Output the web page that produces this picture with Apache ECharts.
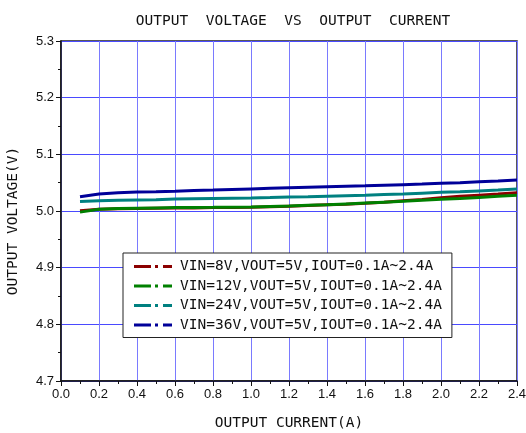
<!DOCTYPE html>
<html>
<head>
<meta charset="utf-8">
<script src="https://cdn.jsdelivr.net/npm/echarts@6/dist/echarts.min.js"></script>
<style>html,body{margin:0;padding:0;background:#fff}#c{width:526px;height:433px}</style>
</head>
<body>
<div id="c"></div>
<script>
const currents = [0.1,0.2,0.3,0.4,0.5,0.6,0.7,0.8,0.9,1.0,1.1,1.2,1.3,1.4,1.5,1.6,1.7,1.8,1.9,2.0,2.1,2.2,2.3,2.4];
const vin8  = [5.0005,5.003,5.004,5.0045,5.005,5.0052,5.0055,5.006,5.006,5.0065,5.0075,5.0085,5.0095,5.011,5.012,5.0136,5.0155,5.018,5.0205,5.0235,5.026,5.028,5.030,5.0324];
const vin12 = [4.998,5.003,5.0045,5.005,5.0055,5.006,5.0063,5.0065,5.0068,5.007,5.008,5.0088,5.010,5.011,5.0125,5.014,5.0155,5.017,5.019,5.0207,5.022,5.024,5.026,5.0277];
const vin24 = [5.0166,5.018,5.019,5.0195,5.020,5.021,5.0215,5.022,5.0225,5.023,5.0237,5.0245,5.025,5.026,5.027,5.0277,5.029,5.030,5.0315,5.033,5.034,5.0355,5.037,5.039];
const vin36 = [5.025,5.030,5.032,5.0335,5.034,5.035,5.0362,5.037,5.038,5.039,5.040,5.041,5.042,5.043,5.0438,5.0445,5.0455,5.0465,5.0475,5.049,5.050,5.0515,5.053,5.0547];
const seriesNames = ['VIN=8V,VOUT=5V,IOUT=0.1A~2.4A','VIN=12V,VOUT=5V,IOUT=0.1A~2.4A','VIN=24V,VOUT=5V,IOUT=0.1A~2.4A','VIN=36V,VOUT=5V,IOUT=0.1A~2.4A'];
const seriesData = [vin8, vin12, vin24, vin36];
const colors = ['#8b0000','#008000','#008080','#000099'];

const monoFont = 'DejaVu Sans Mono';
const dashDot = 'path://M0,0h17v3h-17z M21,0h3v3h-3z M29,0h9v3h-9z';

const chart = echarts.init(document.getElementById('c'), null, {renderer:'canvas'});
chart.setOption({
  animation: false,
  backgroundColor: '#fff',
  title: {
    text: 'OUTPUT  VOLTAGE  VS  OUTPUT  CURRENT',
    left: 288, top: 9, textAlign: 'center',
    textStyle: {fontFamily: monoFont, fontSize: 14.5, fontWeight: 'normal', color: '#111'}
  },
  grid: {left: 61, right: 9, top: 41, bottom: 52, containLabel: false, outerBoundsMode: 'none',
         show: true, borderColor: '#222', borderWidth: 1.5, backgroundColor: 'transparent'},
  legend: {
    orient: 'vertical', left: 123, top: 253,
    padding: [6, 10, 5, 11], itemGap: 4.5,
    itemWidth: 38, itemHeight: 14,
    backgroundColor: '#fff', borderColor: '#222', borderWidth: 1,
    textStyle: {fontFamily: monoFont, fontSize: 14.5, color: '#111', padding: [0,0,0,3]},
    data: seriesNames.map((n, i) => ({name: n, icon: dashDot, itemStyle: {color: colors[i]}}))
  },
  xAxis: {
    type: 'value', min: 0, max: 2.4, interval: 0.2,
    name: 'OUTPUT CURRENT(A)', nameLocation: 'middle', nameGap: 35,
    nameTextStyle: {fontFamily: monoFont, fontSize: 14.5, color: '#111'},
    axisLine: {show: true, lineStyle: {color: '#111', width: 1.5}},
    axisTick: {show: true, inside: false, length: 5, lineStyle: {color: '#111'}},
    minorTick: {show: true, splitNumber: 2, length: 3, lineStyle: {color: '#111'}},
    axisLabel: {formatter: v => v.toFixed(1), fontFamily: 'Liberation Sans', fontSize: 13, color: '#111', margin: 7, showMaxLabel: true, showMinLabel: true},
    splitLine: {show: true, lineStyle: {color: '#7a7aff', width: 1}}
  },
  yAxis: {
    type: 'value', min: 4.7, max: 5.3, interval: 0.1,
    name: 'OUTPUT VOLTAGE(V)', nameLocation: 'middle', nameGap: 40, nameRotate: 90,
    nameTextStyle: {fontFamily: monoFont, fontSize: 14.5, color: '#111', padding: [0, 20, 0, 0]},
    axisLine: {show: true, lineStyle: {color: '#111', width: 1.5}},
    axisTick: {show: true, inside: false, length: 5, lineStyle: {color: '#111'}},
    minorTick: {show: true, splitNumber: 2, length: 3, lineStyle: {color: '#111'}},
    axisLabel: {formatter: v => v.toFixed(1), fontFamily: 'Liberation Sans', fontSize: 13, color: '#111', margin: 7},
    splitLine: {show: true, lineStyle: {color: '#4a4aff', width: 1}}
  },
  series: seriesNames.map((n, i) => ({
    name: n, type: 'line', showSymbol: false, symbol: 'none',
    data: currents.map((c, j) => [c, seriesData[i][j]]),
    lineStyle: {color: colors[i], width: 3},
    itemStyle: {color: colors[i]}
  }))
});
</script>
</body>
</html>
